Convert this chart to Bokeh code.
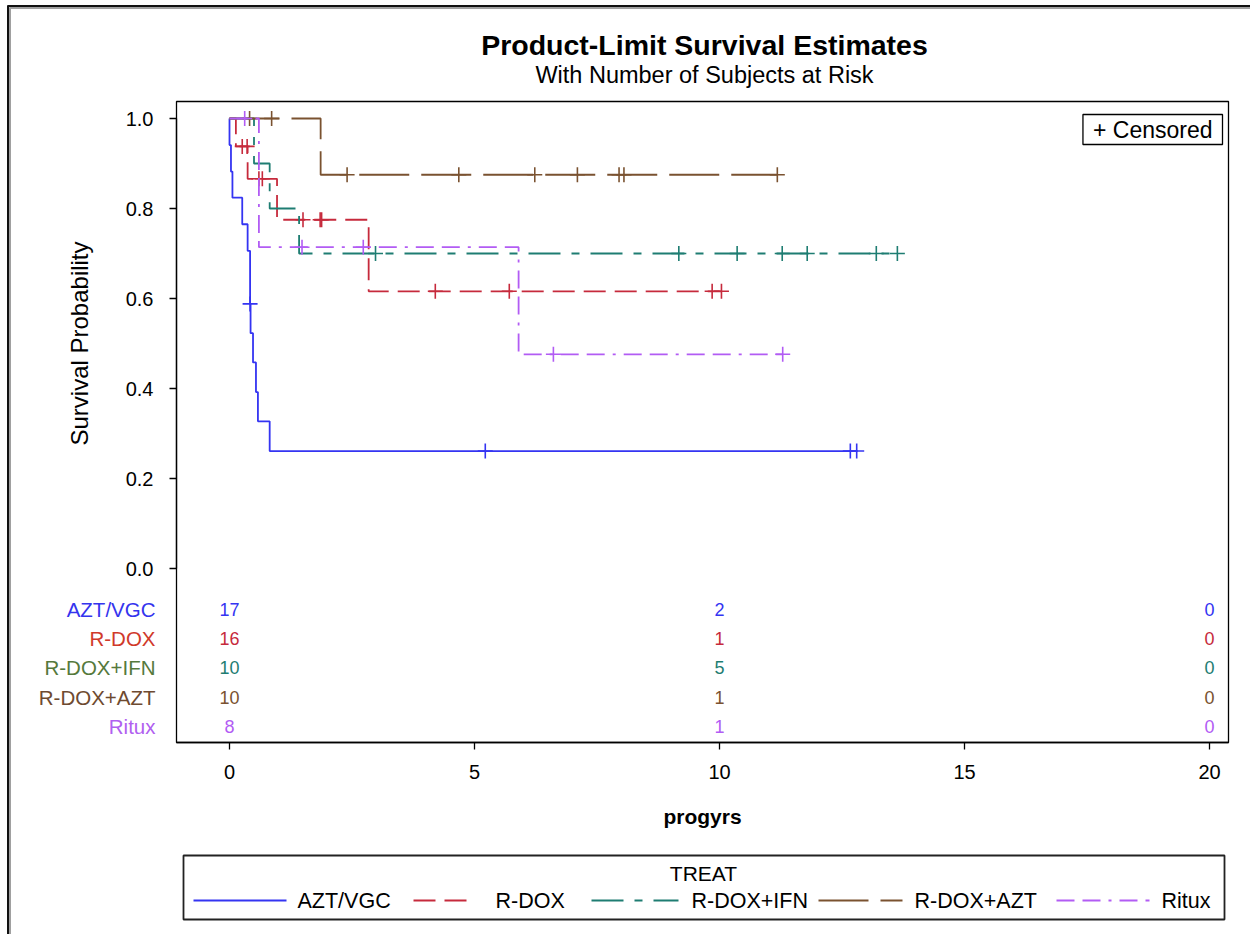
from bokeh.plotting import figure
from bokeh.models import Range1d, FixedTicker, NumeralTickFormatter, Label
from bokeh.embed import file_html
from bokeh.resources import INLINE
from bokeh.core.properties import value

FONT = "Liberation Sans"

# ---------------- data ----------------
groups = ["AZT/VGC", "R-DOX", "R-DOX+IFN", "R-DOX+AZT", "Ritux"]

# event times and survival estimate right after each event
azt_t = [0.0, 0.03, 0.06, 0.26, 0.37, 0.42, 0.43, 0.48, 0.54, 0.58, 0.82]
azt_s = [0.941, 0.882, 0.824, 0.765, 0.706, 0.588, 0.523, 0.458, 0.392, 0.327, 0.261]
azt_cens = [0.42, 5.22, 12.67, 12.80]

rdox_t = [0.13, 0.37, 0.97, 2.84]
rdox_s = [0.938, 0.866, 0.775, 0.616]
rdox_cens = [0.26, 0.36, 0.60, 0.67, 1.50, 1.85, 1.88, 4.20, 5.71, 9.85, 10.04]

ifn_t = [0.50, 0.82, 1.42]
ifn_s = [0.900, 0.800, 0.700]
ifn_cens = [2.98, 9.17, 10.36, 11.28, 11.79, 13.20, 13.63]

razt_t = [1.86]
razt_s = [0.875]
razt_cens = [0.41, 0.86, 2.40, 4.68, 6.23, 7.10, 7.95, 8.05, 11.18]

ritux_t = [0.60, 5.90]
ritux_s = [0.714, 0.476]
ritux_cens = [0.31, 1.48, 2.73, 6.61, 11.29]

risk_times = [0, 10, 20]
risk_azt = [17, 2, 0]
risk_rdox = [16, 1, 0]
risk_ifn = [10, 5, 0]
risk_razt = [10, 1, 0]
risk_ritux = [8, 1, 0]

x_ticks = [0, 5, 10, 15, 20]
y_ticks = [0.0, 0.2, 0.4, 0.6, 0.8, 1.0]

# ---------------- styles ----------------
line_colors = ["#3434F2", "#C62A3C", "#1E7D72", "#7A5230", "#B25CF4"]
label_colors = ["#3434EE", "#D0392A", "#55793C", "#6E4A30", "#B060F0"]
dashes = ["solid", "22 9", "32 11 8 11", "50 12", "18 8 18 8 3 8"]

series = [
    (azt_t, azt_s, azt_cens, risk_azt),
    (rdox_t, rdox_s, rdox_cens, risk_rdox),
    (ifn_t, ifn_s, ifn_cens, risk_ifn),
    (razt_t, razt_s, razt_cens, risk_razt),
    (ritux_t, ritux_s, ritux_cens, risk_ritux),
]

W, H = 1250, 934


# pixel -> data helpers (layout only)
def dx(px):
    return (px - 229) / 49.0


def dy(py):
    return (568 - py) / 450.0


p = figure(width=W, height=H,
           x_range=Range1d(dx(0), dx(W)), y_range=Range1d(dy(H), dy(0)),
           output_backend="svg", toolbar_location=None, min_border=0)
p.xgrid.visible = False
p.ygrid.visible = False
p.outline_line_color = None
p.background_fill_color = "white"
p.border_fill_color = "white"

for ax in (p.xaxis[0], p.yaxis[0]):
    ax.axis_line_color = "black"
    ax.axis_line_width = 1.3
    ax.major_tick_line_color = "black"
    ax.major_tick_line_width = 1.3
    ax.major_tick_out = 7
    ax.major_tick_in = 0
    ax.minor_tick_line_color = None
    ax.major_label_text_font = FONT
    ax.major_label_text_font_size = "20px"
    ax.major_label_text_color = "black"
    ax.axis_label_text_font = FONT
    ax.axis_label_text_color = "black"

p.xaxis.fixed_location = dy(742)
p.xaxis.bounds = (dx(176), dx(1228))
p.xaxis.ticker = FixedTicker(ticks=x_ticks)
p.xaxis.axis_label = "progyrs"
p.xaxis.axis_label_text_font_style = "bold"
p.xaxis.axis_label_text_font_size = "21px"
p.xaxis.major_label_standoff = 15
p.xaxis.axis_label_standoff = 23

p.yaxis.fixed_location = dx(176)
p.yaxis.bounds = (0.0, 1.0)
p.yaxis.ticker = FixedTicker(ticks=y_ticks)
p.yaxis.formatter = NumeralTickFormatter(format="0.0")
p.yaxis.axis_label = "Survival Probability"
p.yaxis.axis_label_text_font_style = "normal"
p.yaxis.axis_label_text_font_size = "24px"
p.yaxis.major_label_standoff = 16
p.yaxis.axis_label_standoff = 30

# page border (left and top) with light shadow
p.line([dx(7.5), dx(7.5)], [dy(5), dy(H)], line_color="#111111", line_width=2)
p.line([dx(9.5), dx(9.5)], [dy(7), dy(H)], line_color="#a0a0a0", line_width=2)
p.line([dx(7), dx(W)], [dy(5.5), dy(5.5)], line_color="#111111", line_width=2)
p.line([dx(9), dx(W)], [dy(7.5), dy(7.5)], line_color="#a0a0a0", line_width=2)

# plot box
p.quad(left=dx(176), right=dx(1228), bottom=dy(742), top=dy(101), fill_color=None,
       line_color="black", line_width=1.3)


def surv_at(t_list, s_list, c):
    s = 1.0
    for t, v in zip(t_list, s_list):
        if t <= c:
            s = v
    return s


for i, (t, s, cens, risk) in enumerate(series):
    end = max(cens + t)
    xs = [0.0] + list(t) + [end]
    ys = [1.0] + list(s) + [s[-1]]
    p.step(xs, ys, mode="after", line_color=line_colors[i], line_width=1.8,
           line_dash=dashes[i])
    cy = [surv_at(t, s, c) for c in cens]
    p.scatter(cens, cy, marker="cross", size=15, line_color=line_colors[i],
              line_width=1.6)
    row_y = -0.091 - 0.065 * i
    p.text(x=risk_times, y=[row_y] * len(risk_times), text=[str(v) for v in risk],
           text_align="center", text_baseline="middle", text_color=line_colors[i],
           text_font=value(FONT), text_font_size=value("18px"))
    p.add_layout(Label(x=dx(155), y=row_y, text=groups[i], text_align="right",
                       text_baseline="middle", text_color=label_colors[i],
                       text_font=FONT, text_font_size="20.5px"))

p.add_layout(Label(x=dx(704), y=dy(44), text="Product-Limit Survival Estimates",
                   text_align="center", text_baseline="middle", text_font=FONT,
                   text_font_style="bold", text_font_size="28.5px", text_color="black"))
p.add_layout(Label(x=dx(704), y=dy(74), text="With Number of Subjects at Risk",
                   text_align="center", text_baseline="middle", text_font=FONT,
                   text_font_size="23.5px", text_color="black"))
p.add_layout(Label(x=dx(1222), y=dy(129), text="+ Censored", text_align="right",
                   text_baseline="middle", text_font=FONT, text_font_size="23px",
                   text_color="black", border_line_color="black", border_line_width=1.3,
                   background_fill_color="white", padding=(10, 2)))

# ---------------- legend below ----------------
p.quad(left=dx(183), right=dx(1224), top=dy(855), bottom=dy(919), fill_color=None,
       line_color="#222222", line_width=1.8)
p.add_layout(Label(x=dx(703), y=dy(873), text="TREAT", text_align="center",
                   text_baseline="middle", text_font=FONT, text_font_size="21px",
                   text_color="black"))
seg_start = [193, 413, 591, 818, 1056]
seg_end = [286, 474, 678, 902, 1149]
txt_x = [297, 495, 691, 914, 1161]
for i, g in enumerate(groups):
    p.line([dx(seg_start[i]), dx(seg_end[i])], [dy(900), dy(900)], line_color=line_colors[i],
           line_width=1.8, line_dash=dashes[i])
    p.add_layout(Label(x=dx(txt_x[i]), y=dy(900), text=g, text_align="left",
                       text_baseline="middle", text_font=FONT, text_font_size="21.5px",
                       text_color="black"))

open("out.html", "w").write(file_html(p, INLINE))
